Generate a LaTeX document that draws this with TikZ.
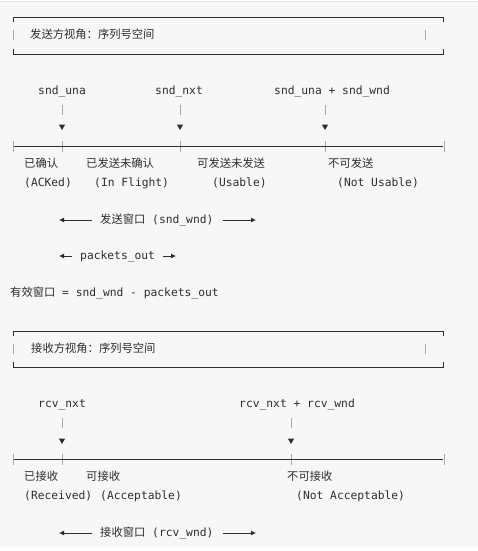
\documentclass[tikz,border=0pt]{standalone}
\usepackage{fontspec}
\setmonofont{DejaVu Sans Mono}
\newfontfamily\cjk{Noto Sans CJK SC}
\usetikzlibrary{arrows.meta}
\definecolor{ink}{HTML}{2E2E2E}
\definecolor{bar}{HTML}{A8A8A8}
\definecolor{bg}{HTML}{F7F7F7}
\newcommand{\zh}[1]{{\cjk #1}}
\begin{document}
\begin{tikzpicture}[x=1pt,y=-1pt,
  txt/.style={inner sep=0pt,text=ink,font=\ttfamily\fontsize{11.3}{13}\selectfont,
    text height=8.5pt,text depth=2.5pt},
  lt/.style={txt,anchor=west},
  boxline/.style={draw=ink,line width=0.8pt},
  tickbar/.style={draw=bar,line width=1pt},
  axis/.style={draw=ink,line width=0.8pt},
  tri/.style={fill=ink,draw=none},
  warrow/.style={draw=ink,line width=0.8pt,-{Latex[length=5pt,width=5pt]}}
]
\useasboundingbox (0,0) rectangle (478,551);
\fill[white] (0,0) rectangle (478,551);
\fill[bg] (0,2) rectangle (478,547);
\draw[draw={rgb,255:red,228;green,228;blue,228},line width=0.8pt] (0,1.5) -- (478,1.5);

% ---------- Box 1 ----------
\draw[boxline] (13,22) -- (13,17) -- (443,17) -- (443,22);
\draw[boxline] (13,49) -- (13,54) -- (443,54) -- (443,49);
\draw[tickbar] (13,30) -- (13,40);
\draw[tickbar] (425,30) -- (425,40);
\node[lt] (t1) at (30,35) {\zh{发送方视角：序列号空间}};

% pointers
\node[lt] (una) at (38,91) {snd\_una};
\node[lt] (nxt) at (155,91) {snd\_nxt};
\node[lt] (unawnd) at (274,91) {snd\_una + snd\_wnd};
\foreach \x in {62,180,325}{
  \draw[tickbar] (\x,105) -- (\x,115);
  \fill[tri] (\x-3.2,124.5) -- (\x+3.2,124.5) -- (\x,130) -- cycle;
  \draw[tickbar] (\x,141) -- (\x,152);
}
\coordinate (a1l) at (13,146);
\coordinate (a1r) at (443,146);
\draw[axis] (a1l) -- (a1r);
\draw[tickbar] (13,141) -- (13,152);
\draw[tickbar] (444,141) -- (444,152);

\node[lt] (s1) at (24,164) {\zh{已确认}};
\node[lt] (s2) at (86,164) {\zh{已发送未确认}};
\node[lt] (s3) at (197,164) {\zh{可发送未发送}};
\node[lt] (s4) at (328,164) {\zh{不可发送}};
\node[lt] (e1) at (24,183) {(ACKed)};
\node[lt] (e2) at (94,183) {(In Flight)};
\node[lt] (e3) at (212,183) {(Usable)};
\node[lt] (e4) at (337,183) {(Not Usable)};

\node[lt] (sw) at (100,220) {\zh{发送窗口} (snd\_wnd)};
\coordinate (swl) at (59,220);
\coordinate (swr) at (256,220);
\draw[warrow] ([xshift=-8pt]sw.west) -- (swl);
\draw[warrow] ([xshift=9pt]sw.east) -- (swr);

\node[lt] (po) at (80,256) {packets\_out};
\coordinate (pol) at (59,256);
\coordinate (por) at (176,256);
\draw[warrow] ([xshift=-8pt]po.west) -- (pol);
\draw[warrow] ([xshift=8pt]po.east) -- (por);

\node[lt] (eff) at (10,293) {\zh{有效窗口} = snd\_wnd - packets\_out};

% ---------- Box 2 ----------
\draw[boxline] (13,336) -- (13,331) -- (443,331) -- (443,336);
\draw[boxline] (13,362) -- (13,367) -- (443,367) -- (443,362);
\draw[tickbar] (13,344) -- (13,354);
\draw[tickbar] (425,344) -- (425,354);
\node[lt] (t2) at (31,349) {\zh{接收方视角：序列号空间}};

\node[lt] (rnxt) at (38,404) {rcv\_nxt};
\node[lt] (rnw) at (239,404) {rcv\_nxt + rcv\_wnd};
\foreach \x in {62,291}{
  \draw[tickbar] (\x,418) -- (\x,428);
  \fill[tri] (\x-3.2,438.5) -- (\x+3.2,438.5) -- (\x,444) -- cycle;
  \draw[tickbar] (\x,454) -- (\x,465);
}
\coordinate (a2l) at (13,459);
\coordinate (a2r) at (443,459);
\draw[axis] (a2l) -- (a2r);
\draw[tickbar] (13,454) -- (13,465);
\draw[tickbar] (444,454) -- (444,465);

\node[lt] (r1) at (24,477) {\zh{已接收}};
\node[lt] (r2) at (86,477) {\zh{可接收}};
\node[lt] (r3) at (287,477) {\zh{不可接收}};
\node[lt] (f1) at (24,496) {(Received)};
\node[lt] (f2) at (100,496) {(Acceptable)};
\node[lt] (f3) at (296,496) {(Not Acceptable)};

\node[lt] (rw) at (100,533) {\zh{接收窗口} (rcv\_wnd)};
\coordinate (rwl) at (59,533);
\coordinate (rwr) at (256,533);
\draw[warrow] ([xshift=-8pt]rw.west) -- (rwl);
\draw[warrow] ([xshift=9pt]rw.east) -- (rwr);
\end{tikzpicture}
\end{document}
